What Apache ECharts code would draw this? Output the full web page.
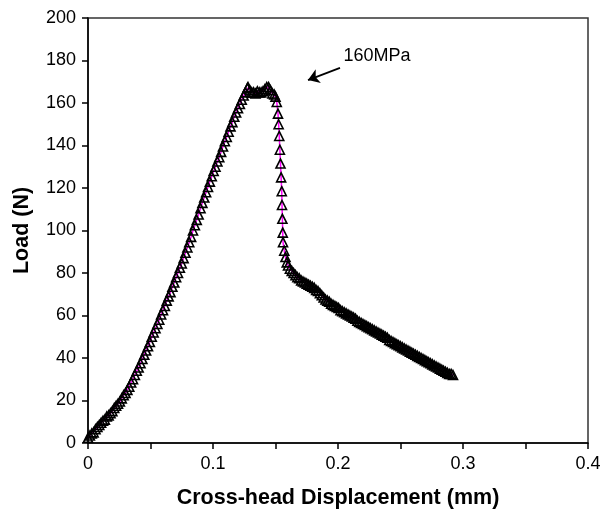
<!DOCTYPE html>
<html>
<head>
<meta charset="utf-8">
<script src="https://cdn.jsdelivr.net/npm/echarts@6/dist/echarts.min.js"></script>
<style>
html,body{margin:0;padding:0;background:#fff;}
#chart{width:608px;height:510px;}
</style>
</head>
<body>
<div id="chart"></div>
<script>
// Rising part: displacement (mm) and load (N)
var riseX = [
0,0.0015,0.003,0.0045,0.006,0.0075,0.009,0.0105,0.012,0.0135,
0.015,0.0165,0.018,0.0195,0.021,0.0225,0.024,0.0255,0.027,0.0285,
0.030,0.0315,0.033,0.0345,0.036,0.0375,0.039,0.0405,0.042,0.0435,
0.045,0.0465,0.048,0.0495,0.051,0.0525,0.054,0.0555,0.057,0.0585,
0.060,0.0615,0.063,0.0645,0.066,0.0675,0.069,0.0705,0.072,0.0735,
0.075,0.0765,0.078,0.0795,0.081,0.0825,0.084,0.0855,0.087,0.0885,
0.090,0.0915,0.093,0.0945,0.096,0.0975,0.099,0.1005,0.102,0.1035,
0.105,0.1065,0.108,0.1095,0.111,0.1125,0.114,0.1155,0.117,0.1185,
0.120,0.1215,0.123,0.1245,0.126,0.1275,0.128
];
var riseY = [
2.5,3.5,4.5,5,6.5,7.5,8.5,9.5,10.5,11,
12.5,13,14,15,16.5,17.5,18.5,19.5,21,22.5,
23.5,25,26.5,28.5,30,32,34,35.5,37.5,39.5,
41.5,43.5,45.5,47.5,50,52,54,56,58,60.5,
62.5,64.5,67,69,71,73.5,75.5,78,80,82.5,
84.5,87,89.5,92,94.5,97,100,102.5,105,107.5,
110.5,113,115.5,118,120.5,123,125.5,128,130,132.5,
134.5,137,139.5,142,144,146.5,149,151,153.5,155.5,
157.5,159.5,161.5,163.5,165,167,167.5
];
// Peak plateau and sudden drop
var peakX = [
0.1295,0.131,0.1325,0.134,0.1355,0.137,0.1385,0.140,0.1415,0.143,
0.1445,0.146,0.1475,0.149,0.150,0.151,0.152,0.1525,0.153,0.1535,
0.154,0.1545,0.155,0.1552,0.1555,0.1558,0.156,0.157,0.158,0.159
];
var peakY = [
166,165,165,164.5,165.5,165,165,165.5,166.5,167.5,
167.5,166,164.5,164,163,160.5,155,150,144.5,138,
131.5,125,118.5,112,105.5,99,94.5,90.5,87.5,85
];
// Post-peak tail
var tailX = [
0.160,0.1615,0.163,0.1645,0.166,0.1675,0.169,0.1705,0.172,0.1735,
0.175,0.1765,0.178,0.1795,0.181,0.1825,0.184,0.1855,0.187,0.1885,
0.190,0.1915,0.193,0.1945,0.196,0.1975,0.199,0.2005,0.202,0.2035,
0.205,0.2065,0.208,0.2095,0.211,0.2125,0.214,0.2155,0.217,0.2185,
0.220,0.2215,0.223,0.2245,0.226,0.2275,0.229,0.2305,0.232,0.2335,
0.235,0.2365,0.238,0.2395,0.241,0.2425,0.244,0.2455,0.247,0.2485,
0.250,0.2515,0.253,0.2545,0.256,0.2575,0.259,0.2605,0.262,0.2635,
0.265,0.2665,0.268,0.2695,0.271,0.2725,0.274,0.2755,0.277,0.2785,
0.280,0.2815,0.283,0.2845,0.286,0.2875,0.289,0.2905,0.292
];
var tailY = [
83.5,82,81,80,79,78,77.5,76.5,76,75.5,
75,74.5,74,73.5,73,72,71.5,70.5,69.5,68.5,
67.5,67,66.5,65.5,65,64.5,64,63.5,62.5,62,
61.5,61,60.5,60,59.5,59,58.5,57.5,57,56.5,
56,55.5,55,54.5,54,53.5,53,52.5,52,51.5,
51,50.5,50,49.5,48.5,48,47.5,47,46.5,46,
45.5,45,44.5,44,43.5,43,42.5,42,41.5,41,
40.5,40,39.5,39,38.5,38,37.5,37,36.5,36,
35.5,35,34.5,34,33.5,33,32.5,32.5,32
];
var xTicks = [0, 0.1, 0.2, 0.3, 0.4];
var yTicks = [0, 20, 40, 60, 80, 100, 120, 140, 160, 180, 200];
var annotationText = '160MPa';
var arrowFrom = [0.2016, 176.5];
var arrowTo = [0.176, 170.8];
var textAt = [0.2312, 181.9];

var allX = riseX.concat(peakX, tailX);
var allY = riseY.concat(peakY, tailY);
var pts = allX.map(function(x, i){ return [x, allY[i]]; });
var font = '"Liberation Sans", Arial, sans-serif';

var chart = echarts.init(document.getElementById('chart'), null, {renderer:'canvas'});
chart.setOption({
  animation: false,
  backgroundColor: '#fff',
  grid: {left: 88, right: 20, top: 18, bottom: 67, containLabel: false, outerBoundsMode: 'none',
    show: true, borderColor: '#333', borderWidth: 1.5, backgroundColor: 'transparent'},
  xAxis: {
    type: 'value', min: xTicks[0], max: xTicks[xTicks.length-1], interval: 0.1,
    name: 'Cross-head Displacement (mm)', nameLocation: 'middle', nameGap: 44,
    nameTextStyle: {fontFamily: font, fontWeight: 'bold', fontSize: 21.5, color: '#000'},
    axisLine: {lineStyle: {color: '#000', width: 1.5}},
    axisTick: {show: true, length: 6, lineStyle: {color: '#000', width: 1.5}},
    minorTick: {show: true, splitNumber: 2, length: 6, lineStyle: {color: '#000', width: 1.5}},
    splitLine: {show: false},
    axisLabel: {fontFamily: font, fontSize: 18, color: '#000', margin: 12,
      formatter: function(v){ return String(+v.toFixed(2)); }}
  },
  yAxis: {
    type: 'value', min: yTicks[0], max: yTicks[yTicks.length-1], interval: 20,
    name: 'Load (N)', nameLocation: 'middle', nameGap: 55,
    nameTextStyle: {fontFamily: font, fontWeight: 'bold', fontSize: 21.5, color: '#000'},
    axisLine: {show: true, lineStyle: {color: '#000', width: 1.5}},
    axisTick: {show: true, length: 6, lineStyle: {color: '#000', width: 1.5}},
    splitLine: {show: false},
    axisLabel: {fontFamily: font, fontSize: 18, color: '#000', margin: 12}
  },
  series: [{
    type: 'line',
    data: pts,
    symbol: 'triangle',
    symbolSize: 9,
    showAllSymbol: true,
    lineStyle: {color: '#ff00ff', width: 1.5},
    itemStyle: {color: 'rgba(255,255,255,0)', borderColor: '#000', borderWidth: 1.6},
    z: 3,
    markLine: {
      silent: true,
      symbol: ['none', 'arrow'],
      symbolSize: 11,
      lineStyle: {color: '#000', width: 1.8, type: 'solid'},
      label: {show: false},
      data: [[{coord: arrowFrom}, {coord: arrowTo}]]
    },
    markPoint: {
      silent: true,
      symbol: 'rect',
      symbolSize: 1,
      itemStyle: {color: 'rgba(0,0,0,0)'},
      label: {show: true, position: 'inside', formatter: annotationText, color: '#000', fontFamily: font, fontSize: 18},
      data: [{coord: textAt}]
    }
  }]
});
</script>
</body>
</html>
